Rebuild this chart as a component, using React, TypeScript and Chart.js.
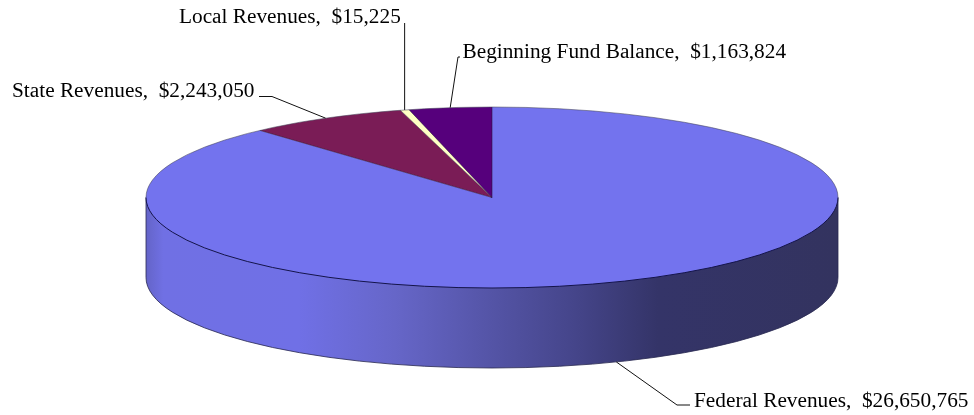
import React, { useEffect, useRef } from "react";
import { Chart, registerables } from "chart.js";

Chart.register(...registerables);

const categories = ["Federal Revenues", "State Revenues", "Local Revenues", "Beginning Fund Balance"];
const printedValues = ["$26,650,765", "$2,243,050", "$15,225", "$1,163,824"];
// Wedge sizes as pictured: the Local wedge is drawn at about 1.5 degrees, wider than its printed value.
const sliceValues = [26650765, 2243050, 125000, 1163824];
const sliceColors = ["#7373EE", "#7A1C56", "#FFFFC4", "#56007C"];

const W = 974, H = 415;
const CX = 492, CY = 197.5, RX = 346, RY = 90.5, DEPTH = 80;
const FONT = '21.3px "Liberation Serif"';

const wallStops: [number, string][] = [
  [0, "#6464c8"],
  [0.025, "#7070e4"],
  [0.22, "#7070e6"],
  [0.36, "#6666c8"],
  [0.5, "#5454a6"],
  [0.62, "#45458a"],
  [0.74, "#343468"],
  [1, "#33335f"],
];

function rim(t: number) {
  return { x: CX + RX * Math.cos(t), y: CY + RY * Math.sin(t) };
}

const pie3d = {
  id: "pie3d",
  beforeDatasetsDraw(chart: any) {
    const { ctx } = chart;
    const arc = chart.getDatasetMeta(0).data[0];
    // side wall
    ctx.save();
    const g = ctx.createLinearGradient(CX - RX, 0, CX + RX, 0);
    wallStops.forEach(([p, c]) => g.addColorStop(p, c));
    ctx.beginPath();
    ctx.moveTo(CX - RX, CY);
    ctx.lineTo(CX - RX, CY + DEPTH);
    ctx.ellipse(CX, CY + DEPTH, RX, RY, 0, Math.PI, 0, true);
    ctx.lineTo(CX + RX, CY);
    ctx.closePath();
    ctx.fillStyle = g;
    ctx.fill();
    ctx.lineWidth = 1;
    ctx.strokeStyle = "rgba(40,40,80,0.8)";
    ctx.stroke();
    ctx.restore();
    // flatten the library's circular pie onto the top ellipse
    ctx.save();
    ctx.translate(CX, CY);
    ctx.scale(RX / arc.outerRadius, RY / arc.outerRadius);
    ctx.translate(-arc.x, -arc.y);
  },
  afterDatasetsDraw(chart: any) {
    const { ctx } = chart;
    ctx.restore();
    const arcs = chart.getDatasetMeta(0).data;
    ctx.save();
    ctx.lineWidth = 1;
    // wedge edges, faint
    ctx.strokeStyle = "rgba(40,20,60,0.55)";
    [arcs[1], arcs[3]].forEach((a: any) => {
      ctx.beginPath();
      ctx.moveTo(CX + RX * Math.cos(a.startAngle), CY + RY * Math.sin(a.startAngle));
      ctx.lineTo(CX, CY);
      ctx.lineTo(CX + RX * Math.cos(a.endAngle), CY + RY * Math.sin(a.endAngle));
      ctx.stroke();
    });
    // back rim, pale
    ctx.strokeStyle = "rgba(70,70,90,0.55)";
    ctx.beginPath();
    ctx.ellipse(CX, CY, RX, RY, 0, Math.PI, 2 * Math.PI, false);
    ctx.stroke();
    // front rim, dark
    ctx.strokeStyle = "#14144a";
    ctx.beginPath();
    ctx.ellipse(CX, CY, RX, RY, 0, 0, Math.PI, false);
    ctx.stroke();
    // leader lines, anchored at each wedge's mid angle
    const mid = (i: number) => (arcs[i].startAngle + arcs[i].endAngle) / 2;
    ctx.strokeStyle = "#111";
    const a0 = rim(mid(0));
    const a1 = rim(mid(1));
    const a2 = rim(mid(2));
    const a3 = rim(mid(3));
    const leaders: { x: number; y: number }[][] = [
      [{ x: a0.x, y: a0.y + DEPTH }, { x: 677, y: 405 }, { x: 690, y: 405 }],
      [a1, { x: 272, y: 96.5 }, { x: 259, y: 96.5 }],
      [a2, { x: a2.x, y: 23 }],
      [a3, { x: 458, y: 57 }, { x: 460, y: 57 }],
    ];
    leaders.forEach((pts) => {
      ctx.beginPath();
      pts.forEach((p, i) => (i ? ctx.lineTo(p.x, p.y) : ctx.moveTo(p.x, p.y)));
      ctx.stroke();
    });
    // labels
    ctx.fillStyle = "#000";
    ctx.font = FONT;
    ctx.textBaseline = "alphabetic";
    ctx.textAlign = "left";
    const labelPos = [
      { x: 694, y: 407 },
      { x: 12, y: 97 },
      { x: 179, y: 22.5 },
      { x: 462.5, y: 57.5 },
    ];
    categories.forEach((c, i) => {
      ctx.fillText(`${c},\u00A0\u00A0${printedValues[i]}`, labelPos[i].x, labelPos[i].y);
    });
    ctx.restore();
  },
};

export default function App() {
  const ref = useRef<HTMLCanvasElement>(null);
  useEffect(() => {
    const chart = new Chart(ref.current!, {
      type: "pie",
      data: {
        labels: categories,
        datasets: [
          {
            data: sliceValues,
            backgroundColor: sliceColors,
            borderWidth: 0,
            clip: false,
          } as any,
        ],
      },
      options: {
        responsive: false,
        animation: false,
        events: [],
        plugins: { legend: { display: false }, tooltip: { enabled: false } },
      },
      plugins: [pie3d],
    });
    return () => chart.destroy();
  }, []);
  return (
    <canvas
      ref={ref}
      width={W}
      height={H}
      style={{ display: "block", position: "absolute", left: 0, top: 0 }}
    />
  );
}
